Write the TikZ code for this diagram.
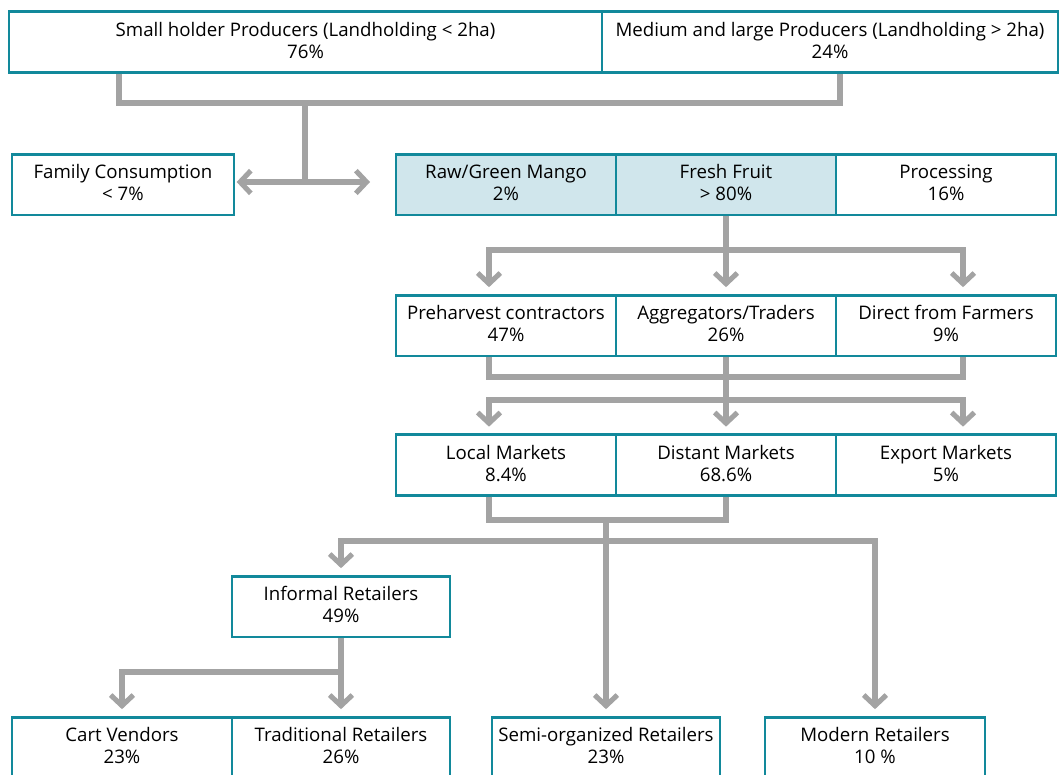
\documentclass[tikz,border=0pt]{standalone}
\usepackage{fontspec}
\setmainfont{Open Sans}
\usetikzlibrary{arrows.meta}
\definecolor{tealb}{HTML}{12899B}
\definecolor{lblue}{HTML}{D0E6EC}
\definecolor{conng}{HTML}{A3A3A3}
\begin{document}
\begin{tikzpicture}[x=0.75pt,y=-0.75pt,
  box/.style={draw=tealb,line width=2pt,fill=white,align=center,inner sep=0pt,
    minimum height=45.5pt,font=\fontsize{14}{16.5}\selectfont,
    execute at begin node={\rule{0pt}{12.5pt}},execute at end node={\rule[-2.5pt]{0pt}{2.5pt}}},
  conn/.style={draw=conng,line width=3.8pt,line join=miter},
  arr/.style={conn,-{Straight Barb[length=8pt,width=17pt]},shorten >=5pt}]
\useasboundingbox[fill=white] (0,0) rectangle (1059,774);
% top row
\node[box,minimum width=444.75pt] (sh) at (305.5,42) {Small holder Producers (Landholding < 2ha)\\76\%};
\node[box,minimum width=342pt] (ml) at (830,42) {Medium and large Producers (Landholding > 2ha)\\24\%};
% second row
\node[box,minimum width=166.5pt] (fam) at (123,184.5) {Family Consumption\\< 7\%};
\node[box,fill=lblue,minimum width=165pt] (raw) at (506,184.5) {Raw/Green Mango\\2\%};
\node[box,fill=lblue,minimum width=165pt] (fresh) at (726,184.5) {Fresh Fruit\\> 80\%};
\node[box,minimum width=165pt] (proc) at (946,184.5) {Processing\\16\%};
% third row
\node[box,minimum width=165pt] (pre) at (506,325.5) {Preharvest contractors\\47\%};
\node[box,minimum width=165pt] (agg) at (726,325.5) {Aggregators/Traders\\26\%};
\node[box,minimum width=165pt] (dir) at (946,325.5) {Direct from Farmers\\9\%};
% fourth row
\node[box,minimum width=165pt] (loc) at (506,465) {Local Markets\\8.4\%};
\node[box,minimum width=165pt] (dist) at (726,465) {Distant Markets\\68.6\%};
\node[box,minimum width=165pt] (exp) at (946,465) {Export Markets\\5\%};
% retailers
\node[box,minimum width=163.5pt] (inf) at (341,606.5) {Informal Retailers\\49\%};
\node[box,minimum width=165pt] (cart) at (122,747.5) {Cart Vendors\\23\%};
\node[box,minimum width=163.5pt] (trad) at (341,747.5) {Traditional Retailers\\26\%};
\node[box,minimum width=171pt] (semi) at (606,747.5) {Semi-organized Retailers\\23\%};
\node[box,minimum width=165pt] (mod) at (875,747.5) {Modern Retailers\\10 \%};
% connectors: producers
\draw[conn] (sh.south -| 119,0) -- (119,103) -- (840,103) -- (ml.south -| 840,0);
\draw[conn] (305,103) -- (305,182);
\draw[conn,{Straight Barb[length=8pt,width=17pt]}-{Straight Barb[length=8pt,width=17pt]},shorten <=1pt] (fam.east |- 0,182) -- (370,182);
% fresh fruit to traders
\draw[arr] (fresh.south) -- (726,250) -| (pre.north -| 489,0);
\draw[arr] (fresh.south) -- (agg.north);
\draw[arr] (fresh.south) -- (726,250) -| (dir.north -| 963,0);
% traders to markets
\draw[conn] (pre.south -| 489,0) -- (489,377) -- (963,377) -- (dir.south -| 963,0);
\draw[conn] (agg.south) -- (726,400);
\draw[arr] (726,400) -| (loc.north -| 489,0);
\draw[arr] (726,400) -- (dist.north);
\draw[arr] (726,400) -| (exp.north -| 963,0);
% markets to retailers
\draw[conn] (loc.south -| 489,0) -- (489,520) -- (726,520) -- (dist.south);
\draw[conn] (606,520) -- (606,541);
\draw[arr] (606,541) -| (inf.north);
\draw[arr] (606,541) -- (semi.north);
\draw[arr] (606,541) -| (mod.north);
% informal to sub-retailers
\draw[arr] (inf.south) -- (341,672) -| (cart.north);
\draw[arr] (inf.south) -- (trad.north);
\end{tikzpicture}
\end{document}
